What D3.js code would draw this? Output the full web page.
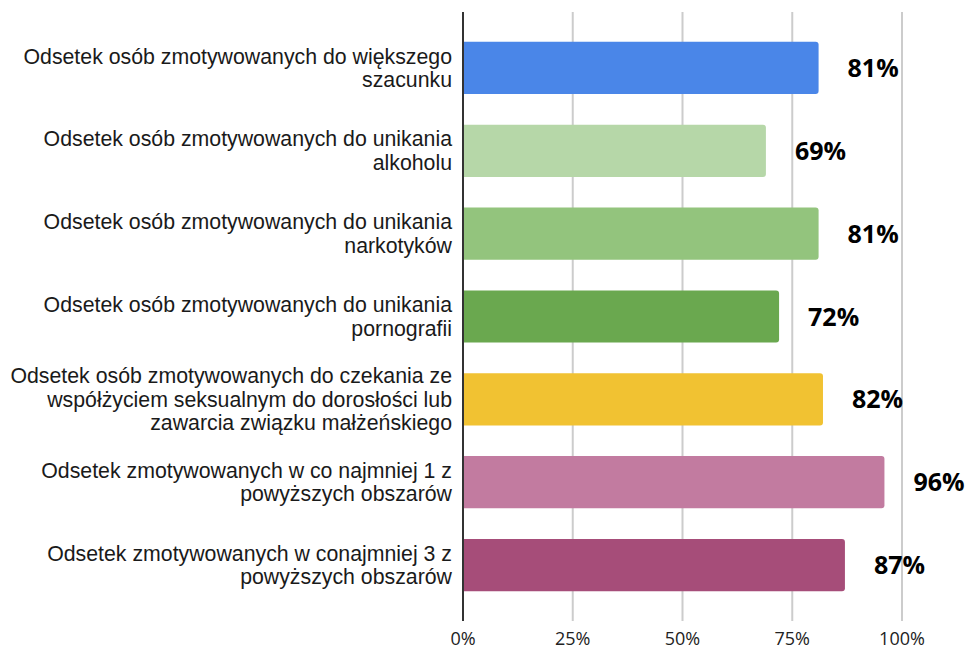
<!DOCTYPE html>
<html><head><meta charset="utf-8">
<script src="https://cdn.jsdelivr.net/npm/d3@7"></script>
<style>html,body{margin:0;padding:0;background:#fff;}svg{display:block;}</style>
</head><body>
<svg id="chart" width="969" height="649"></svg>
<script>
const categories = [
  ["Odsetek osób zmotywowanych do większego", "szacunku"],
  ["Odsetek osób zmotywowanych do unikania", "alkoholu"],
  ["Odsetek osób zmotywowanych do unikania", "narkotyków"],
  ["Odsetek osób zmotywowanych do unikania", "pornografii"],
  ["Odsetek osób zmotywowanych do czekania ze", "współżyciem seksualnym do dorosłości lub", "zawarcia związku małżeńskiego"],
  ["Odsetek zmotywowanych w co najmniej 1 z", "powyższych obszarów"],
  ["Odsetek zmotywowanych w conajmniej 3 z", "powyższych obszarów"]
];
const values = [81, 69, 81, 72, 82, 96, 87];
const colors = ["#4a86e8", "#b6d7a8", "#93c47d", "#6aa84f", "#f1c232", "#c27ba0", "#a64d79"];
const tickValues = [0, 25, 50, 75, 100];

const svg = d3.select("#chart");
const x = d3.scaleLinear().domain([0, 100]).range([463, 902]);
const ids = categories.map((c, i) => i);
const y = d3.scaleBand().domain(ids).range([12, 621]).paddingInner(0.37).paddingOuter(0.36);

// gridlines
svg.append("g").selectAll("line").data(tickValues.filter(t => t > 0)).join("line")
  .attr("x1", d => x(d)).attr("x2", d => x(d))
  .attr("y1", 12).attr("y2", 621)
  .attr("stroke", "#cccccc").attr("stroke-width", 2);

// bars
svg.append("g").selectAll("path").data(values).join("path")
  .attr("d", (d, i) => {
    const x0 = x(0), x1 = x(d), y0 = y(i), h = y.bandwidth(), r = 3;
    return `M${x0},${y0} H${x1 - r} Q${x1},${y0} ${x1},${y0 + r} V${y0 + h - r} Q${x1},${y0 + h} ${x1 - r},${y0 + h} H${x0} Z`;
  })
  .attr("fill", (d, i) => colors[i]);

// axis line
svg.append("line").attr("x1", x(0)).attr("x2", x(0)).attr("y1", 12).attr("y2", 621)
  .attr("stroke", "#333333").attr("stroke-width", 2);

// value labels
svg.append("g").selectAll("text").data(values).join("text")
  .attr("x", d => x(d) + 29)
  .attr("y", (d, i) => y(i) + y.bandwidth() / 2)
  .attr("dy", "0.36em")
  .attr("font-family", "'Open Sans', sans-serif")
  .attr("font-weight", "bold")
  .attr("font-size", 25)
  .attr("fill", "#000")
  .text(d => d + "%");

// category labels
const lh = 23.5;
const cl = svg.append("g").selectAll("text").data(categories).join("text")
  .attr("text-anchor", "end")
  .attr("font-family", "'Liberation Sans', Arial, sans-serif")
  .attr("font-size", 21.3)
  .attr("fill", "#1a1a1a");
cl.each(function(lines, i) {
  const cy = y(i) + y.bandwidth() / 2;
  const start = cy - (lines.length - 1) * lh / 2;
  d3.select(this).selectAll("tspan").data(lines).join("tspan")
    .attr("x", 452)
    .attr("y", (l, j) => start + j * lh)
    .attr("dy", "0.35em")
    .text(l => l);
});

// tick labels
svg.append("g").selectAll("text").data(tickValues).join("text")
  .attr("x", d => x(d)).attr("y", 645)
  .attr("text-anchor", "middle")
  .attr("font-family", "'Open Sans', sans-serif")
  .attr("font-size", 18)
  .attr("fill", "#222")
  .text(d => d + "%");
</script>
</body></html>
